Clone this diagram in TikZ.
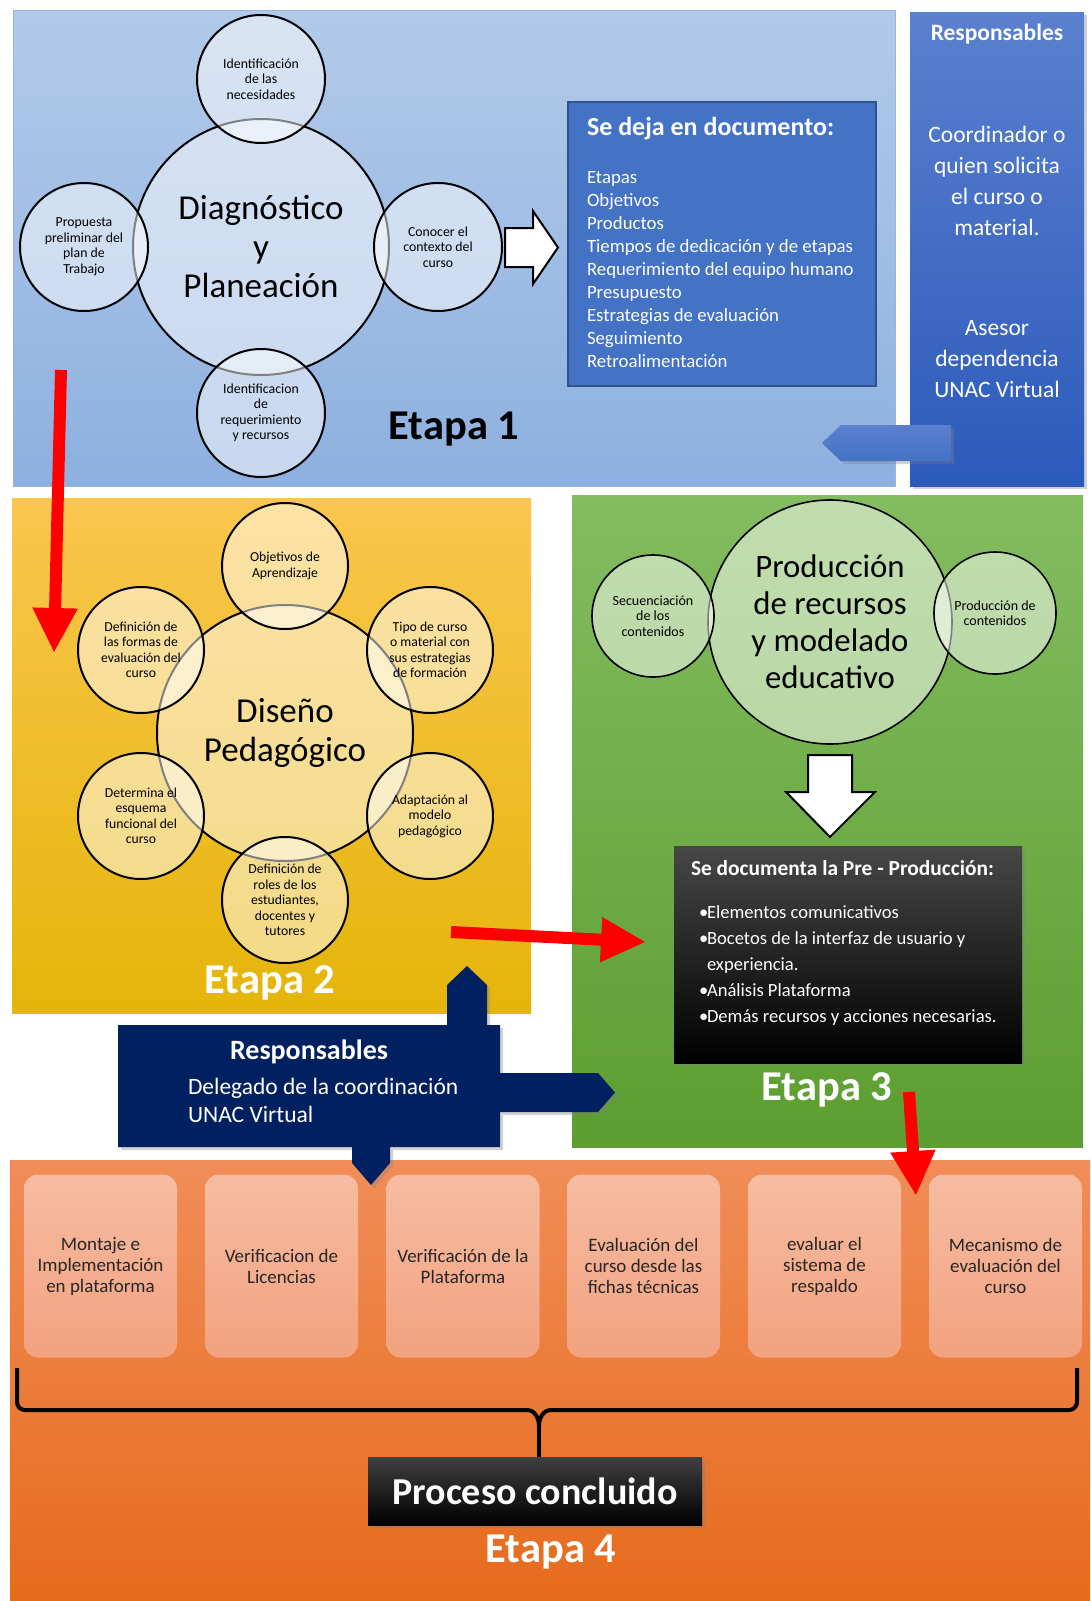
\documentclass[tikz,border=0pt]{standalone}
\usepackage{fontspec}
\setmainfont{Carlito}
\usetikzlibrary{arrows.meta}
\usetikzlibrary{shadows}

\definecolor{stageAtop}{HTML}{B2CAE9}
\definecolor{stageAbot}{HTML}{8EB0E0}
\definecolor{stageAedge}{HTML}{9AB5DC}
\definecolor{respTop}{HTML}{5A80CE}
\definecolor{respBot}{HTML}{2C5ABB}
\definecolor{docBlue}{HTML}{4472C4}
\definecolor{docEdge}{HTML}{2F528F}
\definecolor{stageBtop}{HTML}{FAC64E}
\definecolor{stageBmid}{HTML}{FFC000}
\definecolor{stageBbot}{HTML}{E4B50A}
\definecolor{stageCtop}{HTML}{84BC60}
\definecolor{stageCbot}{HTML}{5C9E30}
\definecolor{stageDtop}{HTML}{F18D58}
\definecolor{stageDbot}{HTML}{E66B1C}
\definecolor{cardTop}{HTML}{F6BCA2}
\definecolor{cardBot}{HTML}{F2A27F}
\definecolor{navy}{HTML}{002060}

\newcommand{\fsz}[2]{\fontsize{#1}{#2}\selectfont}

\begin{document}
\begin{tikzpicture}
[x=1pt,y=-1pt,%
  every node/.style={inner sep=0pt,outer sep=0pt,align=center},%
  hub/.style={circle,draw,line width=2pt,fill=white,fill opacity=0.5,text opacity=1},%
  redarrow/.style={draw=red,line width=12pt,-{Triangle[width=42pt,length=45pt]}},%
  bigtitle/.style={font=\fsz{42.5}{48}\bfseries},%
  card/.style={rounded corners=14pt,top color=cardTop,bottom color=cardBot,%
    minimum width=153pt,minimum height=183pt,font=\fsz{19}{21},text=black!85},%
  shade/.style={drop shadow={opacity=0.35,shadow xshift=3pt,shadow yshift=-3pt}}]
\useasboundingbox[fill=white] (0,0) rectangle (1091,1601);

%% Etapa 1
\node[anchor=north west,minimum width=882pt,minimum height=476pt,%
  top color=stageAtop,bottom color=stageAbot,draw=stageAedge] (stageA) at (13,10) {};
\node[anchor=north west,minimum width=174pt,minimum height=474pt,%
  top color=respTop,bottom color=respBot,shade] (respA) at (910,12) {};
\node[text=white,font=\fsz{23.5}{26}\bfseries] (respAtitle) at (997,34) {Responsables};
\node[text=white,font=\fsz{23.5}{31}] (respAone) at (997,181) {Coordinador o\\quien solicita\\el curso o\\material.};
\node[text=white,font=\fsz{23.5}{31}] (respAtwo) at (997,359) {Asesor\\dependencia\\UNAC Virtual};
\path[top color=respTop,bottom color=docBlue,shade]
  (951,425) -- (841,425) -- (822,443) -- (841,461) -- (951,461) -- cycle;

\node[hub,minimum size=256pt,font=\fsz{35}{39}] (diag) at (261,247) {Diagnóstico\\y\\Planeación};
\node[hub,minimum size=128pt,font=\fsz{13.8}{15.5}] (needs) at (261,79) {Identificación\\de las\\necesidades};
\node[hub,minimum size=128pt,font=\fsz{13.8}{15.5}] (plan) at (84,247) {Propuesta\\preliminar del\\plan de\\Trabajo};
\node[hub,minimum size=128pt,font=\fsz{13.8}{15.5}] (context) at (438,247) {Conocer el\\contexto del\\curso};
\node[hub,minimum size=128pt,font=\fsz{13.8}{15.5}] (reqs) at (261,413) {Identificacion\\de\\requerimiento\\y recursos};

\draw[line width=2pt,fill=white]
  (505,228) -- (533,228) -- (533,211) -- (558,247.5) -- (533,284) -- (533,267) -- (505,267) -- cycle;

\node[anchor=north west,minimum width=308pt,minimum height=284pt,%
  fill=docBlue,draw=docEdge,line width=1.5pt] (doc) at (568,102) {};
\node[anchor=west,text=white,font=\fsz{26}{28}\bfseries] (doctitle) at (587,129) {Se deja en documento:};
\node[anchor=west,align=left,text=white,font=\fsz{18.8}{23}] (doclist) at (587,270)
  {Etapas\\Objetivos\\Productos\\Tiempos de dedicación y de etapas\\Requerimiento del equipo humano\\%
   Presupuesto\\Estrategias de evaluación\\Seguimiento\\Retroalimentación};
\node[bigtitle] (labelA) at (454,429) {Etapa 1};

%% Etapa 2
\node[anchor=north west,minimum width=519pt,minimum height=515pt,%
  top color=stageBtop,middle color=stageBmid,bottom color=stageBbot] (stageB) at (12,498) {};
\node[hub,minimum size=256pt,font=\fsz{35}{39}] (design) at (285,733) {Diseño\\Pedagógico};
\node[hub,minimum size=126pt,font=\fsz{13.7}{15.5}] (goals) at (285,566) {Objetivos de\\Aprendizaje};
\node[hub,minimum size=126pt,font=\fsz{13.7}{15.5}] (kind) at (430,650) {Tipo de curso\\o material con\\sus estrategias\\de formación};
\node[hub,minimum size=126pt,font=\fsz{13.7}{15.5}] (adapt) at (430,816) {Adaptación al\\modelo\\pedagógico};
\node[hub,minimum size=126pt,font=\fsz{13.7}{15.5}] (roles) at (285,900) {Definición de\\roles de los\\estudiantes,\\docentes y\\tutores};
\node[hub,minimum size=126pt,font=\fsz{13.7}{15.5}] (scheme) at (141,816) {Determina el\\esquema\\funcional del\\curso};
\node[hub,minimum size=126pt,font=\fsz{13.7}{15.5}] (assess) at (141,650) {Definición de\\las formas de\\evaluación del\\curso};
\node[bigtitle,text=white] (labelB) at (270,983) {Etapa 2};

%% Etapa 3
\node[anchor=north west,minimum width=511pt,minimum height=652pt,%
  top color=stageCtop,bottom color=stageCbot] (stageC) at (572,495) {};
\node[hub,minimum size=244pt,line width=1.6pt,font=\fsz{32.8}{37}] (prod) at (830,622) {Producción\\de recursos\\y modelado\\educativo};
\node[hub,minimum size=122pt,line width=1.6pt,font=\fsz{14}{15.5}] (seq) at (653,616) {Secuenciación\\de los\\contenidos};
\node[hub,minimum size=122pt,line width=1.6pt,font=\fsz{14}{15.5}] (content) at (995,613) {Producción de\\contenidos};

\draw[line width=2pt,fill=white]
  (808,755) -- (852,755) -- (852,792) -- (875,792) -- (830,837) -- (786,792) -- (808,792) -- cycle;

\node[anchor=north west,minimum width=348pt,minimum height=217pt,%
  top color=black!72,bottom color=black,shade] (predoc) at (674,846) {};
\node[anchor=west,text=white,font=\fsz{21.4}{24}\bfseries] (predoctitle) at (691,868) {Se documenta la Pre - Producción:};
\node[anchor=west,align=left,text=white,font=\fsz{18.6}{26.2}] (predoclist) at (699,965.5)
  {\makebox[8pt][l]{\textbullet}Elementos comunicativos\\%
   \makebox[8pt][l]{\textbullet}Bocetos de la interfaz de usuario y\\%
   \hspace*{8pt}experiencia.\\%
   \makebox[8pt][l]{\textbullet}Análisis Plataforma\\%
   \makebox[8pt][l]{\textbullet}Demás recursos y acciones necesarias.};
\node[bigtitle,text=white] (labelC) at (827,1090) {Etapa 3};

%% Etapa 4
\node[anchor=north west,minimum width=1080pt,minimum height=441pt,%
  top color=stageDtop,bottom color=stageDbot] (stageD) at (10,1160) {};
\node[card] (mount) at (100.5,1266) {Montaje e\\Implementación\\en plataforma};
\node[card] (license) at (281.5,1266) {Verificacion de\\Licencias};
\node[card] (platform) at (463,1266) {Verificación de la\\Plataforma};
\node[card] (sheets) at (643.5,1266) {Evaluación del\\curso desde las\\fichas técnicas};
\node[card] (backup) at (824.5,1266) {evaluar el\\sistema de\\respaldo};
\node[card] (mechanism) at (1005.5,1266) {Mecanismo de\\evaluación del\\curso};

\node[minimum width=334pt,minimum height=68pt,top color=black!75,bottom color=black,%
  text=white,font=\fsz{38}{42}\bfseries,shade] (done) at (535,1491) {Proceso concluido};
\coordinate (bracetip) at (539,1426);
\draw[line width=4pt,rounded corners=8pt] (17,1368) |- (527,1410);
\draw[line width=4pt,rounded corners=8pt] (1077,1368) |- (551,1410);
\draw[line width=4pt] (527,1410) to[out=0,in=90] (bracetip)
  to[out=90,in=180] (551,1410);
\draw[line width=4pt] (bracetip) -- (done.north -| bracetip);
\node[bigtitle,text=white] (labelD) at (551,1552) {Etapa 4};

%% responsables etapas 2 y 3
\path[fill=navy,shade]
  (118,1025) -- (447,1025) -- (447,985) -- (467,966) -- (487,985) -- (487,1025) -- (500,1025)
  -- (500,1073) -- (598,1073) -- (615,1092.5) -- (598,1112) -- (500,1112) -- (500,1147)
  -- (390,1147) -- (390,1163) -- (371,1185) -- (352,1163) -- (352,1147) -- (118,1147) -- cycle;
\node[text=white,font=\fsz{28}{30}\bfseries] (respB) at (309,1052) {Responsables};
\node[anchor=west,align=left,text=white,font=\fsz{23.5}{28}] (respBtext) at (188,1100)
  {Delegado de la coordinación\\UNAC Virtual};

%% red arrows
\coordinate (redAfrom) at (61,370);
\coordinate (redAto) at (54,653);
\coordinate (redBfrom) at (451,932);
\coordinate (redBto) at (646,942);
\coordinate (redCfrom) at (909,1092);
\coordinate (redCto) at (916,1196);
\draw[redarrow] (redAfrom) -- (redAto);
\draw[redarrow] (redBfrom) -- (redBto);
\draw[redarrow] (redCfrom) -- (redCto);
\end{tikzpicture}
\end{document}
